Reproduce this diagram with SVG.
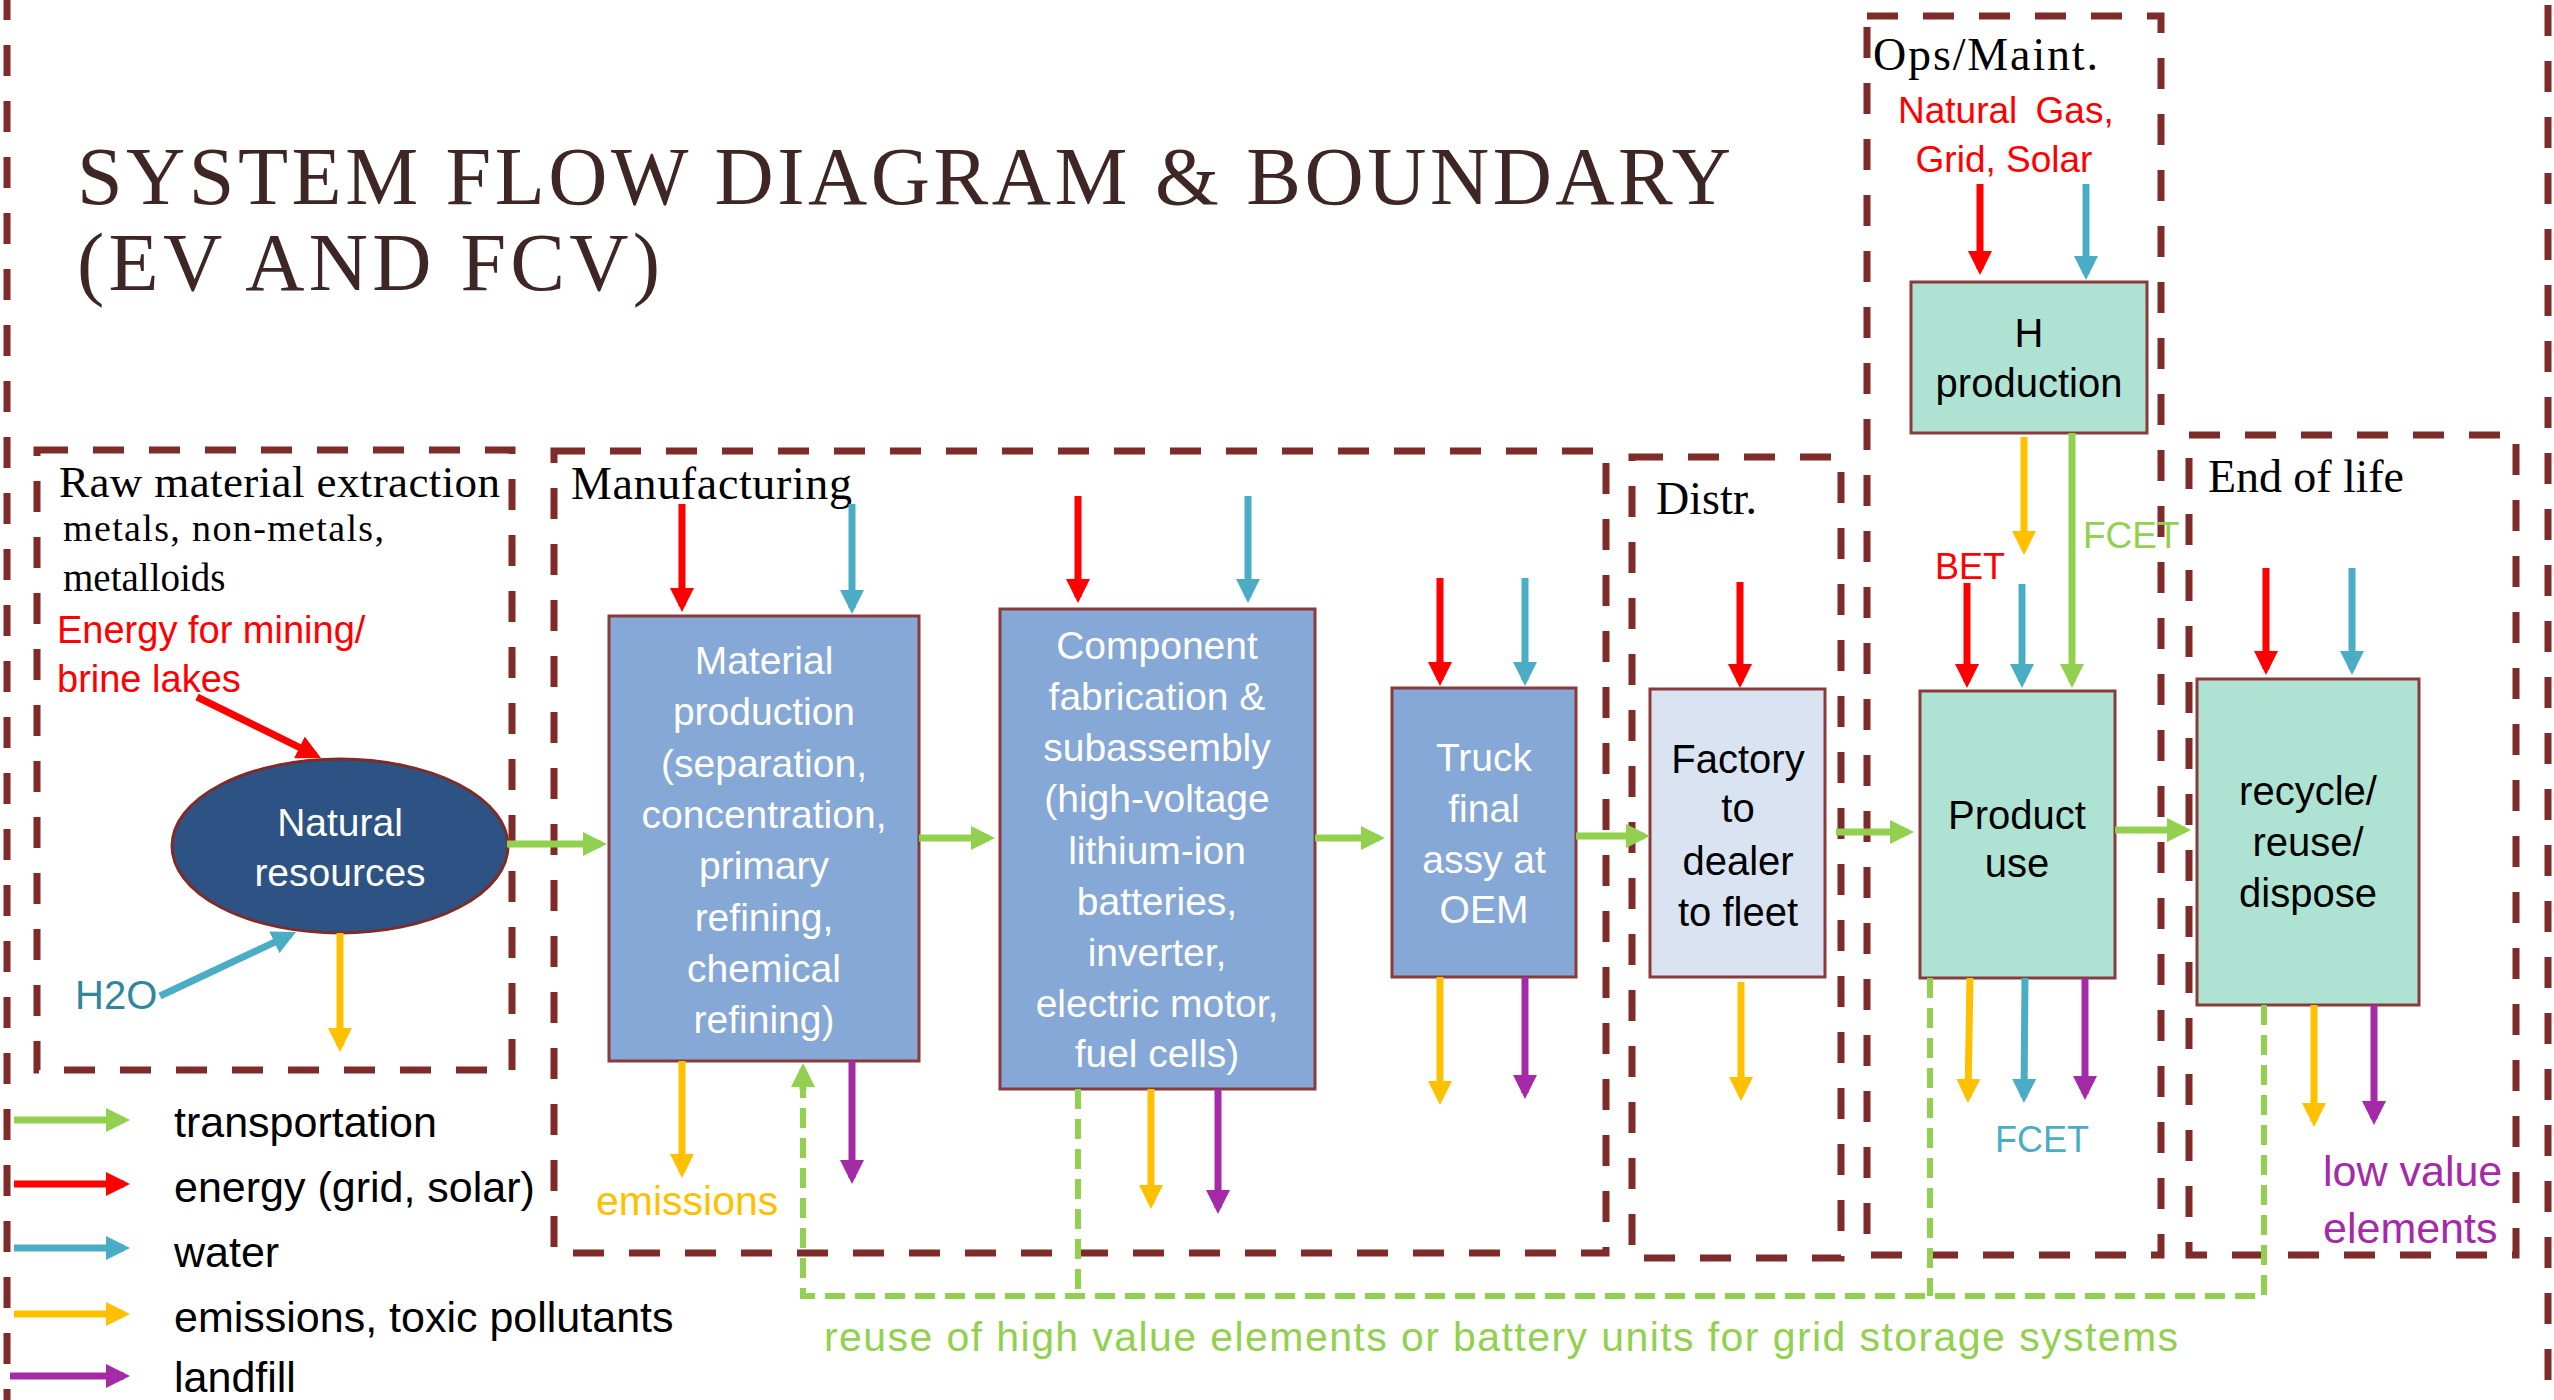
<svg xmlns="http://www.w3.org/2000/svg" width="2554" height="1400" viewBox="0 0 2554 1400">
<style>
.bnd{fill:none;stroke:#7f2b29;stroke-width:7;stroke-dasharray:31 25}
.box{stroke:#8b3a3a;stroke-width:3}
.blue{fill:#85a8d6}
.lblue{fill:#d9e3f2}
.mint{fill:#aee3d3}
.serif{font-family:"Liberation Serif","DejaVu Serif",serif;fill:#000}
.sans{font-family:"Liberation Sans",Arial,sans-serif}
.wt{fill:#fff;font-size:39px;text-anchor:middle}
.bk{fill:#000;font-size:40px;text-anchor:middle}
.g{stroke:#92d050;stroke-width:7;fill:none}
.r{stroke:#ff0000;stroke-width:7;fill:none}
.t{stroke:#4bacc6;stroke-width:7;fill:none}
.y{stroke:#ffc000;stroke-width:7;fill:none}
.p{stroke:#a52aa8;stroke-width:7;fill:none}
.gd{stroke:#92d050;stroke-width:6;fill:none;stroke-dasharray:20 10}
.leg{font-size:43px;fill:#000}
</style>
<defs>
<marker id="mG" viewBox="0 0 24 24" markerWidth="24" markerHeight="24" refX="18" refY="12" orient="auto" markerUnits="userSpaceOnUse"><path d="M0,0 L24,12 L0,24 z" fill="#92d050"/></marker>
<marker id="mR" viewBox="0 0 24 24" markerWidth="24" markerHeight="24" refX="18" refY="12" orient="auto" markerUnits="userSpaceOnUse"><path d="M0,0 L24,12 L0,24 z" fill="#ff0000"/></marker>
<marker id="mT" viewBox="0 0 24 24" markerWidth="24" markerHeight="24" refX="18" refY="12" orient="auto" markerUnits="userSpaceOnUse"><path d="M0,0 L24,12 L0,24 z" fill="#4bacc6"/></marker>
<marker id="mY" viewBox="0 0 24 24" markerWidth="24" markerHeight="24" refX="18" refY="12" orient="auto" markerUnits="userSpaceOnUse"><path d="M0,0 L24,12 L0,24 z" fill="#ffc000"/></marker>
<marker id="mP" viewBox="0 0 24 24" markerWidth="24" markerHeight="24" refX="18" refY="12" orient="auto" markerUnits="userSpaceOnUse"><path d="M0,0 L24,12 L0,24 z" fill="#a52aa8"/></marker>
</defs>
<rect width="2554" height="1400" fill="#fff"/>

<g id="boundaries">
<rect class="bnd" x="7" y="-30" width="2541" height="1460"/>
<rect id="b-raw" class="bnd" x="37" y="450" width="475" height="620"/>
<rect id="b-mfg" class="bnd" x="554" y="451" width="1052" height="802"/>
<rect id="b-distr" class="bnd" x="1632" y="457" width="209" height="801"/>
<rect id="b-ops" class="bnd" x="1867" y="16" width="294" height="1239"/>
<rect id="b-eol" class="bnd" x="2189" y="435" width="327" height="820"/>
</g>

<g id="title" font-family="Liberation Serif,DejaVu Serif,serif" fill="#3e2624" font-size="82">
<text x="77" y="204" textLength="1654" lengthAdjust="spacing">SYSTEM FLOW DIAGRAM &amp; BOUNDARY</text>
<text x="77" y="290" textLength="583" lengthAdjust="spacing">(EV AND FCV)</text>
</g>

<g id="boundary-labels">
<text class="serif" x="59" y="497" font-size="45" textLength="441">Raw material extraction</text>
<text class="serif" x="63" y="541" font-size="38" textLength="321">metals, non-metals,</text>
<text class="serif" x="63" y="591" font-size="39">metalloids</text>
<text class="serif" x="571" y="499" font-size="46" textLength="281">Manufacturing</text>
<text class="serif" x="1656" y="514" font-size="46">Distr.</text>
<text class="serif" x="1873" y="70" font-size="46" textLength="225">Ops/Maint.</text>
<text class="serif" x="2208" y="492" font-size="46" textLength="196">End of life</text>
</g>

<g id="n-natural">
<ellipse cx="340" cy="846" rx="168" ry="87" fill="#2c5384" stroke="#7f2b29" stroke-width="3"/>
<text class="sans wt" x="340" y="836" font-size="38">Natural</text>
<text class="sans wt" x="340" y="886" font-size="38">resources</text>
</g>

<g id="n-material">
<rect class="box blue" x="609" y="616" width="310" height="445"/>
<g class="sans wt">
<text x="764" y="674">Material</text>
<text x="764" y="725">production</text>
<text x="764" y="777">(separation,</text>
<text x="764" y="828">concentration,</text>
<text x="764" y="879">primary</text>
<text x="764" y="931">refining,</text>
<text x="764" y="982">chemical</text>
<text x="764" y="1033">refining)</text>
</g>
</g>

<g id="n-component">
<rect class="box blue" x="1000" y="609" width="315" height="480"/>
<g class="sans wt">
<text x="1157" y="659">Component</text>
<text x="1157" y="710">fabrication &amp;</text>
<text x="1157" y="761">subassembly</text>
<text x="1157" y="812">(high-voltage</text>
<text x="1157" y="864">lithium-ion</text>
<text x="1157" y="915">batteries,</text>
<text x="1157" y="966">inverter,</text>
<text x="1157" y="1017">electric motor,</text>
<text x="1157" y="1067">fuel cells)</text>
</g>
</g>

<g id="n-truck">
<rect class="box blue" x="1392" y="688" width="184" height="289"/>
<g class="sans wt">
<text x="1484" y="771">Truck</text>
<text x="1484" y="822">final</text>
<text x="1484" y="873">assy at</text>
<text x="1484" y="923">OEM</text>
</g>
</g>

<g id="n-factory">
<rect class="box lblue" x="1650" y="689" width="175" height="288"/>
<g class="sans bk">
<text x="1738" y="773">Factory</text>
<text x="1738" y="822">to</text>
<text x="1738" y="875">dealer</text>
<text x="1738" y="926">to fleet</text>
</g>
</g>

<g id="n-hprod">
<rect class="box mint" x="1911" y="282" width="236" height="151"/>
<g class="sans bk">
<text x="2029" y="347">H</text>
<text x="2029" y="397">production</text>
</g>
</g>

<g id="n-product">
<rect class="box mint" x="1920" y="691" width="195" height="287"/>
<g class="sans bk">
<text x="2017" y="829">Product</text>
<text x="2017" y="877">use</text>
</g>
</g>

<g id="n-recycle">
<rect class="box mint" x="2197" y="679" width="222" height="326"/>
<g class="sans bk">
<text x="2308" y="805">recycle/</text>
<text x="2308" y="856">reuse/</text>
<text x="2308" y="907">dispose</text>
</g>
</g>

<g id="connectors">
<line class="r" x1="197" y1="697" x2="315.6" y2="755.3" marker-end="url(#mR)"/>
<line class="t" x1="160" y1="996" x2="290.6" y2="934.6" marker-end="url(#mT)"/>
<line class="y" x1="340" y1="933" x2="340" y2="1046" marker-end="url(#mY)"/>
<line class="g" x1="507" y1="844" x2="601" y2="844" marker-end="url(#mG)"/>
<line class="r" x1="682" y1="504" x2="682" y2="606" marker-end="url(#mR)"/>
<line class="t" x1="852" y1="504" x2="852" y2="608" marker-end="url(#mT)"/>
<line class="y" x1="682" y1="1061" x2="682" y2="1172" marker-end="url(#mY)"/>
<line class="p" x1="852" y1="1061" x2="852" y2="1178" marker-end="url(#mP)"/>
<line class="g" x1="919" y1="838" x2="989" y2="838" marker-end="url(#mG)"/>
<line class="r" x1="1078" y1="496" x2="1078" y2="597" marker-end="url(#mR)"/>
<line class="t" x1="1248" y1="496" x2="1248" y2="597" marker-end="url(#mT)"/>
<line class="y" x1="1151" y1="1089" x2="1151" y2="1203" marker-end="url(#mY)"/>
<line class="p" x1="1218" y1="1089" x2="1218" y2="1208" marker-end="url(#mP)"/>
<line class="g" x1="1315" y1="838" x2="1379" y2="838" marker-end="url(#mG)"/>
<line class="r" x1="1440" y1="578" x2="1440" y2="680" marker-end="url(#mR)"/>
<line class="t" x1="1525" y1="578" x2="1525" y2="680" marker-end="url(#mT)"/>
<line class="y" x1="1440" y1="977" x2="1440" y2="1099" marker-end="url(#mY)"/>
<line class="p" x1="1525" y1="977" x2="1525" y2="1093" marker-end="url(#mP)"/>
<line class="g" x1="1576" y1="836" x2="1644" y2="836" marker-end="url(#mG)"/>
<line class="r" x1="1740" y1="582" x2="1740" y2="682" marker-end="url(#mR)"/>
<line class="y" x1="1741" y1="982" x2="1741" y2="1095" marker-end="url(#mY)"/>
<line class="g" x1="1836" y1="832" x2="1908" y2="832" marker-end="url(#mG)"/>
<line class="r" x1="1980" y1="184" x2="1980" y2="269" marker-end="url(#mR)"/>
<line class="t" x1="2086" y1="184" x2="2086" y2="274" marker-end="url(#mT)"/>
<line class="y" x1="2024" y1="437" x2="2024" y2="549" marker-end="url(#mY)"/>
<line class="g" x1="2072" y1="433" x2="2072" y2="682" marker-end="url(#mG)"/>
<line class="r" x1="1967" y1="583" x2="1967" y2="682" marker-end="url(#mR)"/>
<line class="t" x1="2022" y1="584" x2="2022" y2="682" marker-end="url(#mT)"/>
<line class="y" x1="1970" y1="978" x2="1968" y2="1097" marker-end="url(#mY)"/>
<line class="t" x1="2025" y1="978" x2="2024" y2="1097" marker-end="url(#mT)"/>
<line class="p" x1="2085" y1="978" x2="2085" y2="1094" marker-end="url(#mP)"/>
<line class="g" x1="2115" y1="830" x2="2185" y2="830" marker-end="url(#mG)"/>
<line class="r" x1="2266" y1="568" x2="2266" y2="669" marker-end="url(#mR)"/>
<line class="t" x1="2352" y1="568" x2="2352" y2="669" marker-end="url(#mT)"/>
<line class="y" x1="2314" y1="1005" x2="2314" y2="1121" marker-end="url(#mY)"/>
<line class="p" x1="2374" y1="1005" x2="2374" y2="1119" marker-end="url(#mP)"/>
<polyline class="gd" points="2264,1005 2264,1296 803,1296 803,1085"/>
<line class="g" x1="803" y1="1090" x2="803" y2="1069" marker-end="url(#mG)"/>
<line class="gd" x1="1078" y1="1089" x2="1078" y2="1296"/>
<line class="gd" x1="1930" y1="978" x2="1930" y2="1296"/>
</g>

<g id="flow-labels" class="sans">
<text x="57" y="643" font-size="38" fill="#ff0000">Energy for mining/</text>
<text x="57" y="692" font-size="38" fill="#ff0000">brine lakes</text>
<text x="75" y="1009" font-size="40" fill="#31859c">H2O</text>
<text x="596" y="1215" font-size="41" fill="#ffc000">emissions</text>
<text x="1898" y="123" font-size="37" fill="#ff0000">Natural <tspan dx="8">Gas,</tspan></text>
<text x="2004" y="172" font-size="37" fill="#ff0000" text-anchor="middle">Grid, Solar</text>
<text x="2083" y="548" font-size="37" fill="#92d050">FCET</text>
<text x="1935" y="579" font-size="36" fill="#ff0000">BET</text>
<text x="1995" y="1152" font-size="36" fill="#4bacc6">FCET</text>
<text x="2323" y="1186" font-size="43" fill="#a52aa8">low value</text>
<text x="2323" y="1243" font-size="43" fill="#a52aa8">elements</text>
<text x="824" y="1351" font-size="41" fill="#92d050" textLength="1354">reuse of high value elements or battery units for grid storage systems</text>
</g>

<g id="legend">
<line class="g" x1="14" y1="1120" x2="124" y2="1120" marker-end="url(#mG)"/>
<line class="r" x1="14" y1="1184" x2="124" y2="1184" marker-end="url(#mR)"/>
<line class="t" x1="14" y1="1248" x2="124" y2="1248" marker-end="url(#mT)"/>
<line class="y" x1="14" y1="1314" x2="124" y2="1314" marker-end="url(#mY)"/>
<line class="p" x1="10" y1="1376" x2="124" y2="1376" marker-end="url(#mP)"/>
<g class="sans leg">
<text x="174" y="1137">transportation</text>
<text x="174" y="1202">energy (grid, solar)</text>
<text x="174" y="1267">water</text>
<text x="174" y="1332">emissions, toxic pollutants</text>
<text x="174" y="1392">landfill</text>
</g>
</g>
</svg>
